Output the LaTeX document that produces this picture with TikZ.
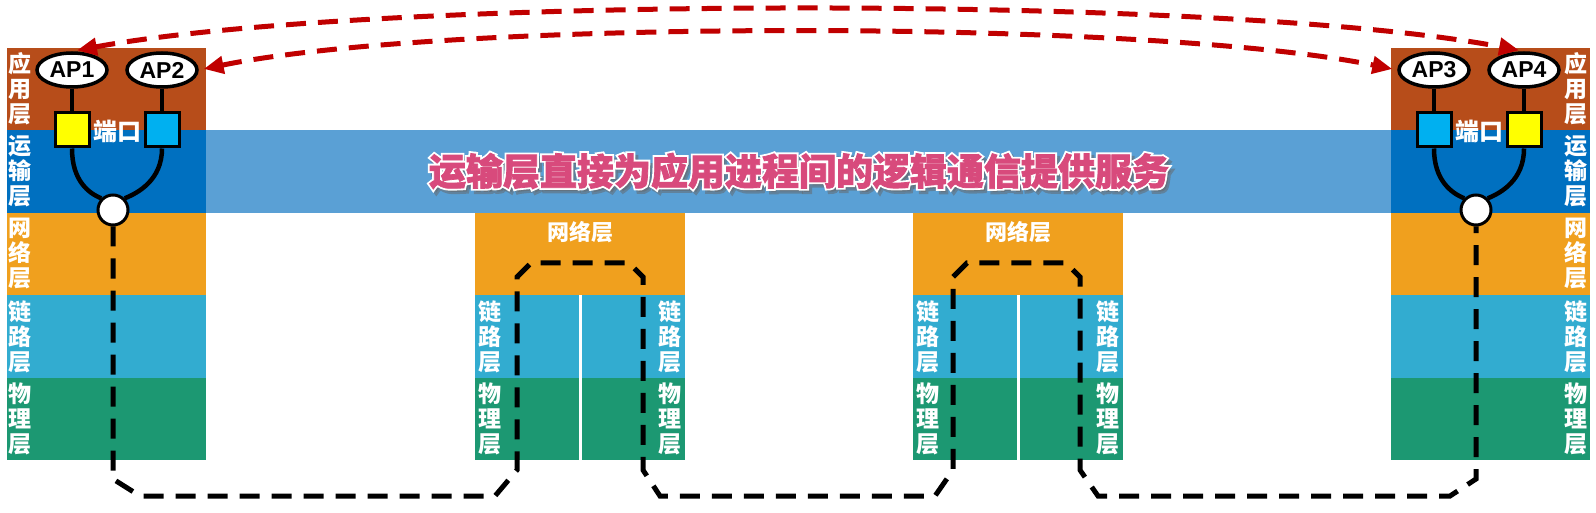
\documentclass[tikz,border=0pt]{standalone}
\usepackage{fontspec}
\newfontfamily\cjk{Noto Sans CJK SC}
\newfontfamily\slogfat{Noto Sans CJK SC}[BoldFeatures={FakeBold=12}]
\newfontfamily\slogpink{Noto Sans CJK SC}[BoldFeatures={FakeBold=2}]
\newfontfamily\apfont{Liberation Sans}
\usetikzlibrary{shapes.geometric,arrows.meta,positioning}
\definecolor{appc}{RGB}{183,77,26}
\definecolor{transc}{RGB}{0,112,192}
\definecolor{netc}{RGB}{240,160,30}
\definecolor{linkc}{RGB}{50,172,208}
\definecolor{physc}{RGB}{28,152,114}
\definecolor{bannerc}{RGB}{90,160,213}
\definecolor{pinkc}{RGB}{216,74,124}
\definecolor{arrowc}{RGB}{192,0,0}
\definecolor{portyellow}{RGB}{255,255,0}
\definecolor{portblue}{RGB}{0,176,240}
\tikzset{
  layer/.style={inner sep=0pt, outer sep=0pt, minimum width=199pt, minimum height=82.4pt},
  half/.style={inner sep=0pt, outer sep=0pt, minimum width=103.5pt, minimum height=82.4pt},
  lab/.style={text=white, font=\cjk\bfseries\fontsize{23}{25}\selectfont, align=center, inner sep=0pt},
  ap/.style={draw, ellipse, line width=3.5pt, fill=white, minimum width=70pt, minimum height=34pt, inner sep=0pt, font=\apfont\bfseries\fontsize{23}{23}\selectfont},
  port/.style={draw, line width=3pt, minimum size=34pt, inner sep=0pt},
  sock/.style={draw, circle, line width=3pt, fill=white, minimum size=30pt, inner sep=0pt},
  wire/.style={line width=4.5pt},
  route/.style={line width=5pt, dash pattern=on 20pt off 12pt},
  talk/.style={<->, >={Triangle[length=20pt,width=17pt]}, line width=5pt, dash pattern=on 20pt off 12pt, arrowc, shorten <=5pt, shorten >=5pt},
  slogan/.style={inner sep=0pt, font=\slogpink\bfseries\fontsize{37}{40}\selectfont}
}
\begin{document}
\begin{tikzpicture}[x=1pt, y=-1pt]
\useasboundingbox (0,0) rectangle (1596,513);

% the two hosts
\foreach \h/\x/\lx in {hl/106.5/20, hr/1490.5/1576} {
  \node[layer, fill=appc] (\h-app) at (\x,89.2) {};
  \node[layer, fill=transc] (\h-trans) at (\x,171.6) {};
  \node[layer, fill=netc] (\h-net) at (\x,254) {};
  \node[layer, fill=linkc] (\h-link) at (\x,336.4) {};
  \node[layer, fill=physc] (\h-phys) at (\x,418.8) {};
  \node[lab] (\h-applab) at (\lx,89.2) {应\\用\\层};
  \node[lab] (\h-translab) at (\lx,171.6) {运\\输\\层};
  \node[lab] (\h-netlab) at (\lx,254) {网\\络\\层};
  \node[lab] (\h-linklab) at (\lx,336.4) {链\\路\\层};
  \node[lab] (\h-physlab) at (\lx,418.8) {物\\理\\层};
}

% the two routers
\foreach \r/\x in {ra/580, rb/1018} {
  \node[inner sep=0pt, outer sep=0pt, minimum width=210pt, minimum height=82.4pt, fill=netc] (\r-net) at (\x,254) {};
  \node[lab, font=\cjk\bfseries\fontsize{22}{22}\selectfont] (\r-netlab) at (\x,232) {网络层};
  \node[half, fill=linkc, anchor=east] (\r-linkl) at (\x-1.5,336.4) {};
  \node[half, fill=linkc, anchor=west] (\r-linkr) at (\x+1.5,336.4) {};
  \node[half, fill=physc, anchor=east] (\r-physl) at (\x-1.5,418.8) {};
  \node[half, fill=physc, anchor=west] (\r-physr) at (\x+1.5,418.8) {};
  \node[lab] (\r-linklabl) at (\x-90,336.4) {链\\路\\层};
  \node[lab] (\r-linklabr) at (\x+90,336.4) {链\\路\\层};
  \node[lab] (\r-physlabl) at (\x-90,418.8) {物\\理\\层};
  \node[lab] (\r-physlabr) at (\x+90,418.8) {物\\理\\层};
}

\node[fill=bannerc, inner sep=0pt, outer sep=0pt, minimum width=1185pt, minimum height=82.4pt] (banner) at (798.5,171.6) {};
\node[slogan, font=\slogfat\bfseries\fontsize{37}{40}\selectfont, text=black!60, opacity=0.5] (btshadow) at (802,174.5) {运输层直接为应用进程间的逻辑通信提供服务};
\node[slogan, font=\slogfat\bfseries\fontsize{37}{40}\selectfont, text=white] (btrim) at (799,171) {运输层直接为应用进程间的逻辑通信提供服务};
\node[slogan, text=pinkc] (bt) at (799,171) {运输层直接为应用进程间的逻辑通信提供服务};

% processes and ports
\node[ap] (ap1) at (72,70) {AP1};
\node[ap] (ap2) at (162,70) {AP2};
\node[port, fill=portyellow] (p1) at (72,130) {};
\node[port, fill=portblue] (p2) at (162,130) {};
\node[lab, font=\cjk\bfseries\fontsize{24}{24}\selectfont] (plab1) at (117,131) {端口};
\node[sock] (s1) at (113,210) {};

\node[ap] (ap3) at (1434,70) {AP3};
\node[ap] (ap4) at (1524,70) {AP4};
\node[port, fill=portblue] (p3) at (1434,130) {};
\node[port, fill=portyellow] (p4) at (1524,130) {};
\node[lab, font=\cjk\bfseries\fontsize{24}{24}\selectfont] (plab2) at (1479,131) {端口};
\node[sock] (s2) at (1476,210) {};

\draw[wire] (ap1) -- (p1);
\draw[wire] (ap2) -- (p2);
\draw[wire] (ap3) -- (p3);
\draw[wire] (ap4) -- (p4);
\draw[wire] (p1.south) .. controls (72,180) and (88,193) .. (s1.135);
\draw[wire] (p2.south) .. controls (162,180) and (138,193) .. (s1.45);
\draw[wire] (p3.south) .. controls (1434,180) and (1451,193) .. (s2.135);
\draw[wire] (p4.south) .. controls (1524,180) and (1501,193) .. (s2.45);

% path through the routers
\draw[route] (s1.south) -- (113,479) -- (140,496) -- (495,496) -- (517,470) -- (517,277) -- (531,263) -- (629,263) -- (643,277) -- (643,470) -- (660,496)
  -- (935,496) -- (953,470) -- (953,277) -- (967,263) -- (1066,263) -- (1080,277) -- (1080,470) -- (1098,496) -- (1450,496) -- (1476,479) -- (s2.south);

\draw[talk] (ap1.north) .. controls (372,-4) and (1223,-6) .. (ap4.north);
\draw[talk] (ap2.east) .. controls (447,19) and (1148,19) .. (ap3.west);
\end{tikzpicture}
\end{document}
